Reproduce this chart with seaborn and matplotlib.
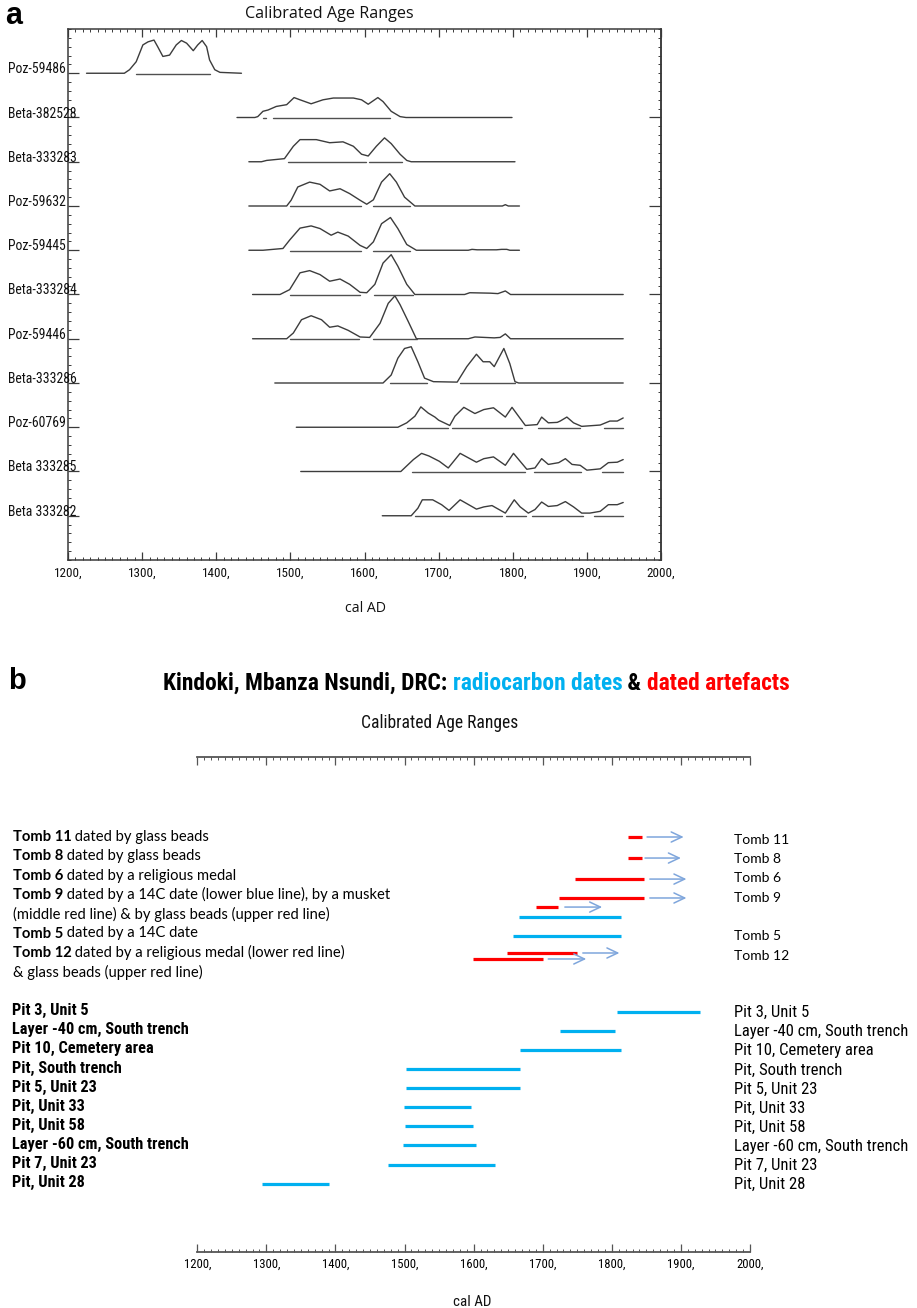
import numpy as np
import pandas as pd
import matplotlib
matplotlib.use("Agg")
import matplotlib.pyplot as plt
import seaborn as sns
from matplotlib import font_manager
from matplotlib.ticker import MultipleLocator, FixedLocator
from matplotlib.transforms import blended_transform_factory

# ------------------------------------------------------------------ data
# Panel a : calibrated probability curves (year, relative height)
POZ_59486_YEAR = [1225, 1276, 1283, 1292, 1301, 1308, 1316, 1321, 1328, 1337, 1346, 1353, 1360, 1369, 1375, 1381, 1387, 1391, 1398, 1405, 1434]
POZ_59486_PROB = [0, 0, 0.08, 0.26, 0.64, 0.71, 0.75, 0.60, 0.38, 0.41, 0.64, 0.74, 0.68, 0.51, 0.64, 0.74, 0.60, 0.30, 0.08, 0.02, 0]
POZ_59486_RANGES = [(1292, 1392)]

BETA_382528_YEAR = [1428, 1452, 1456, 1463, 1470, 1481, 1495, 1505, 1513, 1528, 1544, 1558, 1585, 1596, 1605, 1618, 1625, 1636, 1648, 1656, 1799]
BETA_382528_PROB = [0, 0, 0.02, 0.14, 0.17, 0.25, 0.29, 0.45, 0.40, 0.31, 0.40, 0.44, 0.44, 0.40, 0.30, 0.45, 0.36, 0.14, 0.02, 0, 0]
BETA_382528_RANGES = [(1463, 1467), (1476, 1635)]

BETA_333283_YEAR = [1444, 1461, 1468, 1492, 1504, 1513, 1535, 1553, 1571, 1585, 1596, 1605, 1616, 1627, 1636, 1648, 1657, 1663, 1803]
BETA_333283_PROB = [0, 0, 0.03, 0.07, 0.35, 0.50, 0.50, 0.43, 0.45, 0.35, 0.17, 0.13, 0.35, 0.54, 0.41, 0.17, 0.03, 0, 0]
BETA_333283_RANGES = [(1497, 1602), (1606, 1650)]

POZ_59632_YEAR = [1444, 1495, 1501, 1510, 1526, 1540, 1553, 1567, 1580, 1594, 1603, 1612, 1623, 1634, 1643, 1654, 1668, 1786, 1790, 1794, 1809]
POZ_59632_PROB = [0, 0, 0.13, 0.43, 0.54, 0.49, 0.34, 0.39, 0.28, 0.13, 0.04, 0.14, 0.54, 0.73, 0.54, 0.20, 0, 0, 0.03, 0, 0]
POZ_59632_RANGES = [(1499, 1595), (1612, 1661)]

POZ_59445_YEAR = [1444, 1463, 1490, 1499, 1513, 1528, 1540, 1555, 1564, 1578, 1594, 1603, 1612, 1623, 1635, 1645, 1657, 1670, 1740, 1745, 1752, 1778, 1785, 1792, 1796, 1809]
POZ_59445_PROB = [0, 0, 0.04, 0.23, 0.50, 0.55, 0.49, 0.34, 0.41, 0.32, 0.11, 0.04, 0.19, 0.60, 0.74, 0.49, 0.13, 0, 0, 0.02, 0.01, 0.01, 0.02, 0.02, 0, 0]
POZ_59445_RANGES = [(1499, 1595), (1611, 1661)]

BETA_333284_YEAR = [1449, 1486, 1499, 1513, 1526, 1540, 1553, 1567, 1580, 1594, 1603, 1614, 1625, 1636, 1645, 1657, 1668, 1735, 1742, 1770, 1780, 1790, 1797, 1949]
BETA_333284_PROB = [0, 0, 0.11, 0.49, 0.54, 0.45, 0.30, 0.35, 0.23, 0.05, 0.04, 0.23, 0.71, 0.90, 0.64, 0.23, 0, 0, 0.04, 0.03, 0.02, 0.08, 0, 0]
BETA_333284_RANGES = [(1500, 1594), (1613, 1666)]

POZ_59446_YEAR = [1449, 1495, 1504, 1515, 1528, 1542, 1553, 1564, 1578, 1594, 1607, 1621, 1632, 1641, 1648, 1659, 1670, 1740, 1749, 1775, 1783, 1790, 1797, 1949]
POZ_59446_PROB = [0, 0, 0.13, 0.43, 0.52, 0.43, 0.26, 0.29, 0.19, 0.04, 0.03, 0.35, 0.80, 0.97, 0.77, 0.39, 0, 0, 0.04, 0.02, 0.03, 0.11, 0, 0]
POZ_59446_RANGES = [(1499, 1593), (1612, 1671)]

BETA_333286_YEAR = [1479, 1625, 1636, 1645, 1654, 1663, 1672, 1681, 1693, 1725, 1738, 1751, 1760, 1769, 1775, 1788, 1796, 1803, 1808, 1949]
BETA_333286_PROB = [0, 0, 0.18, 0.56, 0.78, 0.82, 0.48, 0.11, 0.03, 0.02, 0.37, 0.65, 0.48, 0.48, 0.37, 0.78, 0.44, 0.03, 0, 0]
BETA_333286_RANGES = [(1635, 1684), (1729, 1803)]

POZ_60769_YEAR = [1508, 1645, 1657, 1668, 1676, 1686, 1695, 1700, 1715, 1722, 1734, 1749, 1761, 1774, 1790, 1799, 1806, 1817, 1833, 1839, 1848, 1860, 1864, 1873, 1882, 1893, 1918, 1931, 1941, 1949]
POZ_60769_PROB = [0, 0, 0.10, 0.25, 0.46, 0.32, 0.23, 0.16, 0.04, 0.25, 0.45, 0.31, 0.40, 0.44, 0.23, 0.45, 0.29, 0.04, 0.06, 0.23, 0.10, 0.11, 0.14, 0.23, 0.10, 0.02, 0.05, 0.14, 0.14, 0.21]
POZ_60769_RANGES = [(1657, 1713), (1718, 1813), (1834, 1891), (1923, 1949)]

BETA_333285_YEAR = [1514, 1649, 1666, 1677, 1687, 1701, 1713, 1729, 1751, 1761, 1774, 1790, 1801, 1808, 1819, 1830, 1839, 1848, 1862, 1871, 1880, 1891, 1900, 1918, 1929, 1941, 1949]
BETA_333285_PROB = [0, 0, 0.27, 0.41, 0.35, 0.23, 0.08, 0.41, 0.21, 0.29, 0.33, 0.14, 0.41, 0.27, 0.05, 0.08, 0.29, 0.16, 0.20, 0.29, 0.16, 0.14, 0.03, 0.06, 0.20, 0.21, 0.27]
BETA_333285_RANGES = [(1664, 1817), (1828, 1892), (1920, 1949)]

BETA_333282_YEAR = [1624, 1663, 1672, 1678, 1692, 1704, 1714, 1729, 1751, 1761, 1772, 1790, 1802, 1810, 1821, 1830, 1839, 1848, 1860, 1871, 1882, 1893, 1904, 1918, 1929, 1941, 1949]
BETA_333282_PROB = [0, 0, 0.17, 0.36, 0.36, 0.25, 0.12, 0.36, 0.15, 0.20, 0.23, 0.06, 0.36, 0.20, 0.06, 0.14, 0.31, 0.21, 0.23, 0.32, 0.20, 0.06, 0.06, 0.10, 0.25, 0.25, 0.30]
BETA_333282_RANGES = [(1668, 1785), (1791, 1818), (1826, 1895), (1909, 1949)]

a_samples = ["Poz-59486", "Beta-382528", "Beta-333283", "Poz-59632", "Poz-59445",
             "Beta-333284", "Poz-59446", "Beta-333286", "Poz-60769", "Beta 333285", "Beta 333282"]
a_years = [POZ_59486_YEAR, BETA_382528_YEAR, BETA_333283_YEAR, POZ_59632_YEAR, POZ_59445_YEAR,
           BETA_333284_YEAR, POZ_59446_YEAR, BETA_333286_YEAR, POZ_60769_YEAR, BETA_333285_YEAR, BETA_333282_YEAR]
a_probs = [POZ_59486_PROB, BETA_382528_PROB, BETA_333283_PROB, POZ_59632_PROB, POZ_59445_PROB,
           BETA_333284_PROB, POZ_59446_PROB, BETA_333286_PROB, POZ_60769_PROB, BETA_333285_PROB, BETA_333282_PROB]
a_ranges = [POZ_59486_RANGES, BETA_382528_RANGES, BETA_333283_RANGES, POZ_59632_RANGES, POZ_59445_RANGES,
            BETA_333284_RANGES, POZ_59446_RANGES, BETA_333286_RANGES, POZ_60769_RANGES, BETA_333285_RANGES, BETA_333282_RANGES]

year_ticks = [1200, 1300, 1400, 1500, 1600, 1700, 1800, 1900, 2000]
year_tick_labels = ["1200,", "1300,", "1400,", "1500,", "1600,", "1700,", "1800,", "1900,", "2000,"]

# Panel b : tomb descriptions (bold part, regular part)
tomb_text_bold = ["Tomb 11", "Tomb 8", "Tomb 6", "Tomb 9", "", "Tomb 5", "Tomb 12", ""]
tomb_text_rest = [" dated by glass beads", " dated by glass beads", " dated by a religious medal",
                  " dated by a 14C date (lower blue line), by a musket",
                  "(middle red line) & by glass beads (upper red line)",
                  " dated by a 14C date", " dated by a religious medal (lower red line)",
                  "& glass beads (upper red line)"]
tomb_right_labels = ["Tomb 11", "Tomb 8", "Tomb 6", "Tomb 9", "Tomb 5", "Tomb 12"]
tomb_right_line = [0, 1, 2, 3, 5, 6]

# dated artefacts (red) with open-ended arrows
artefact_tomb = ["Tomb 11", "Tomb 8", "Tomb 6", "Tomb 9 (beads)", "Tomb 9 (musket)", "Tomb 12 (beads)", "Tomb 12 (medal)"]
artefact_start = [1823, 1823, 1747, 1724, 1690, 1648, 1599]
artefact_end = [1844, 1844, 1846, 1846, 1722, 1750, 1700]
arrow_start = [1851, 1848, 1855, 1855, 1732, 1758, 1708]
arrow_end = [1904, 1900, 1908, 1908, 1786, 1811, 1763]
artefact_lane = [0.0, 1.09, 2.18, 3.16, 3.63, 6.01, 6.32]

# tomb radiocarbon dates (blue)
tomb14c = ["Tomb 9", "Tomb 5"]
tomb14c_start = [1665, 1657]
tomb14c_end = [1813, 1813]
tomb14c_lane = [4.15, 5.13]

# other radiocarbon dates (blue)
site_labels = ["Pit 3, Unit 5", "Layer -40 cm, South trench", "Pit 10, Cemetery area", "Pit, South trench",
               "Pit 5, Unit 23", "Pit, Unit 33", "Pit, Unit 58", "Layer -60 cm, South trench",
               "Pit 7, Unit 23", "Pit, Unit 28"]
site_start = [1807, 1725, 1667, 1502, 1502, 1499, 1500, 1498, 1476, 1293]
site_end = [1927, 1804, 1814, 1667, 1667, 1596, 1599, 1603, 1631, 1390]

# ------------------------------------------------------------------ style
W, H, DPI = 917, 1308, 100
sns.set_theme(style="white")
plt.rcParams["font.family"] = ["DejaVu Sans"]

available = {f.name for f in font_manager.fontManager.ttflist}


def pick(*names):
    for n in names:
        if n in available:
            return n
    return "DejaVu Sans"


NARROW = pick("Liberation Sans Narrow", "Roboto Condensed", "Open Sans Condensed", "DejaVu Sans Condensed", "Liberation Sans")
CAL = pick("Lato", "Open Sans", "Liberation Sans")
SEGOE = pick("Open Sans", "Noto Sans", "DejaVu Sans")
ARIAL = pick("Liberation Sans", "DejaVu Sans")
TAHOMA = NARROW

CURVE = "#3c3c3c"
AXC = "#3a3a3a"
BLUE = "#00B0F0"
RED = "#FF0000"
ARROW = "#7FA6DC"

fig = plt.figure(figsize=(W / DPI, H / DPI), dpi=DPI)
fig.patch.set_facecolor("white")
renderer = fig.canvas.get_renderer()


def fx(x):
    return x / W


def fy(y):
    return 1 - y / H


def pt(p):
    return p * 72 / DPI


def fit(s, target, **kw):
    t = fig.text(0, 0, s, fontsize=10, **kw)
    w = t.get_window_extent(renderer).width
    t.remove()
    return 10 * target / w


# ------------------------------------------------------------------ panel a
axa = fig.add_axes([fx(68), fy(560), (661 - 68) / W, (560 - 29) / H])

rows = []
for i, (name, ys, ps) in enumerate(zip(a_samples, a_years, a_probs)):
    for yv, pv in zip(ys, ps):
        rows.append({"sample": name, "year": yv, "level": i - pv})
curve_df = pd.DataFrame(rows)

rrows = []
for i, (name, rngs) in enumerate(zip(a_samples, a_ranges)):
    for k, (s, e) in enumerate(rngs):
        rrows.append({"seg": f"{name}-{k}", "year": s, "level": i + 0.01})
        rrows.append({"seg": f"{name}-{k}", "year": e, "level": i + 0.01})
range_df = pd.DataFrame(rrows)

sns.lineplot(data=curve_df, x="year", y="level", units="sample", estimator=None, sort=False,
             color=CURVE, lw=1.0, ax=axa, legend=False)
sns.lineplot(data=range_df, x="year", y="level", units="seg", estimator=None, sort=False,
             color="#505050", lw=1.0, ax=axa, legend=False)

axa.set_xlim(1200, 2000)
axa.set_ylim(11, -1)
axa.set_xlabel("")
axa.set_ylabel("")
for sp in axa.spines.values():
    sp.set_color(AXC)
    sp.set_linewidth(1.1)

fs_tick_a = fit("1200,", 28, family=TAHOMA)
axa.set_xticks(year_ticks)
axa.set_xticklabels(year_tick_labels, fontsize=fs_tick_a, family=TAHOMA, color="#111111")
axa.xaxis.set_minor_locator(MultipleLocator(10))
axa.tick_params(axis="x", which="major", direction="in", length=pt(8), width=0.9, color=AXC,
                top=True, bottom=True, pad=pt(7))
axa.tick_params(axis="x", which="minor", direction="in", length=pt(3), width=0.7, color=AXC,
                top=True, bottom=True)
axa.yaxis.set_major_locator(FixedLocator(list(range(len(a_samples)))))
axa.yaxis.set_minor_locator(MultipleLocator(0.2))
axa.tick_params(axis="y", which="major", direction="in", length=pt(11), width=0.9, color=AXC,
                left=True, right=False, labelleft=False)
axa.tick_params(axis="y", which="minor", direction="in", length=pt(3), width=0.7, color=AXC,
                left=True, right=False)

sec = axa.secondary_yaxis("right")
sec.yaxis.set_major_locator(FixedLocator([1, 3, 5, 7, 9]))
sec.yaxis.set_minor_locator(MultipleLocator(0.2))
sec.tick_params(axis="y", which="major", direction="in", length=pt(12), width=0.9, color=AXC, labelright=False)
sec.tick_params(axis="y", which="minor", direction="in", length=pt(3), width=0.7, color=AXC)
sec.spines["right"].set_color(AXC)
sec.spines["right"].set_linewidth(1.1)

trans_a = blended_transform_factory(fig.transFigure, axa.transData)
fs_lab_a = fit("Beta-382528", 68, family=TAHOMA)
for i, name in enumerate(a_samples):
    fig.text(fx(8), i, name, transform=trans_a, ha="left", va="baseline",
             fontsize=fs_lab_a, family=TAHOMA, color="#111111")

fig.text(fx(329), fy(14), "Calibrated Age Ranges", ha="center", va="center",
         fontsize=fit("Calibrated Age Ranges", 168, family=SEGOE), family=SEGOE, color="#111111")
fig.text(fx(365.5), fy(609), "cal AD", ha="center", va="center",
         fontsize=fit("cal AD", 41, family=SEGOE), family=SEGOE, color="#111111")
fig.text(fx(5), fy(24), "a", ha="left", va="baseline", fontsize=22, weight="bold", family=ARIAL, color="black")

# ------------------------------------------------------------------ panel b
LINE0, LSTEP = 837.0, 19.3
u_top = (757 - LINE0) / LSTEP
u_bot = (1252 - LINE0) / LSTEP
axb = fig.add_axes([fx(197.3), fy(1252), (750 - 197.3) / W, (1252 - 757) / H])
axb.set_xlim(1200, 2000)
axb.set_ylim(u_bot, u_top)
axb.set_facecolor("none")
axb.spines["left"].set_visible(False)
axb.spines["right"].set_visible(False)
for s in ("top", "bottom"):
    axb.spines[s].set_color("#555555")
    axb.spines[s].set_linewidth(1.3)

fs_tick_b = fit("1200,", 27, family=NARROW)
axb.set_xticks(year_ticks)
axb.set_xticklabels(year_tick_labels, fontsize=fs_tick_b, family=NARROW, color="black")
axb.xaxis.set_minor_locator(MultipleLocator(10))
axb.tick_params(axis="x", which="major", direction="in", length=pt(8), width=0.9, color="#555555",
                top=True, bottom=True, pad=pt(6))
axb.tick_params(axis="x", which="minor", direction="in", length=pt(3), width=0.7, color="#555555",
                top=True, bottom=True)
axb.set_yticks([])
axb.tick_params(axis="y", left=False, right=False)

# red artefact bars + arrows
axb.hlines(artefact_lane, artefact_start, artefact_end, colors=RED, lw=2.3, capstyle="butt")
for s, e, ln in zip(arrow_start, arrow_end, artefact_lane):
    axb.annotate("", xy=(e, ln), xytext=(s, ln),
                 arrowprops=dict(arrowstyle="->,head_length=0.55,head_width=0.26", color=ARROW,
                                 lw=1.1, mutation_scale=14, shrinkA=0, shrinkB=0))
# blue radiocarbon bars
axb.hlines(tomb14c_lane, tomb14c_start, tomb14c_end, colors=BLUE, lw=2.3, capstyle="butt")
site_lane = [9 + i * 0.99 for i in range(len(site_labels))]
axb.hlines([u + 0.05 for u in site_lane], site_start, site_end, colors=BLUE, lw=2.3, capstyle="butt")

trans_b = blended_transform_factory(fig.transFigure, axb.transData)

# descriptive lines (bold + regular)
fs_cal = fit("dated by a 14C date (lower blue line), by a musket", 322, family=CAL)
for i, (bold, rest) in enumerate(zip(tomb_text_bold, tomb_text_rest)):
    if bold:
        t1 = fig.text(fx(12.7), i, bold, transform=trans_b, ha="left", va="center",
                      fontsize=fs_cal, weight="bold", family=CAL, color="black")
        axb.annotate(rest, xy=(1, 0), xycoords=t1, ha="left", va="bottom",
                     fontsize=fs_cal, family=CAL, color="black", annotation_clip=False)
    else:
        fig.text(fx(12.7), i, rest, transform=trans_b, ha="left", va="center",
                 fontsize=fs_cal, family=CAL, color="black")

fs_right_tomb = fit("Tomb 11", 55, family=CAL)
for lab, ln in zip(tomb_right_labels, tomb_right_line):
    fig.text(fx(734), ln + 0.15, lab, transform=trans_b, ha="left", va="center",
             fontsize=fs_right_tomb, family=CAL, color="black")

fs_site_left = fit("Layer -40 cm, South trench", 176, family=NARROW, weight="bold")
fs_site_right = fit("Layer -60 cm, South trench", 173, family=NARROW)
for lab, u in zip(site_labels, site_lane):
    fig.text(fx(12), u, lab, transform=trans_b, ha="left", va="center",
             fontsize=fs_site_left, weight="bold", family=NARROW, color="black")
    fig.text(fx(734), u + 0.1, lab, transform=trans_b, ha="left", va="center",
             fontsize=fs_site_right, family=NARROW, color="black")

# title of panel b (multi-coloured)
title_parts = ["Kindoki, Mbanza Nsundi, DRC: ", "radiocarbon dates", " & ", "dated artefacts"]
title_colors = ["black", BLUE, "black", RED]
fs_title = fit("".join(title_parts), 627, family=NARROW, weight="bold")
prev = fig.text(fx(163), fy(683), title_parts[0], ha="left", va="center", fontsize=fs_title,
                weight="bold", family=NARROW, color=title_colors[0])
for part, col in zip(title_parts[1:], title_colors[1:]):
    prev = axb.annotate(part, xy=(1, 0), xycoords=prev, ha="left", va="bottom", fontsize=fs_title,
                        weight="bold", family=NARROW, color=col, annotation_clip=False)

fig.text(fx(440), fy(723), "Calibrated Age Ranges", ha="center", va="center",
         fontsize=fit("Calibrated Age Ranges", 156, family=NARROW), family=NARROW, color="#111111")
fig.text(fx(472), fy(1302), "cal AD", ha="center", va="center",
         fontsize=fit("cal AD", 38, family=NARROW), family=NARROW, color="#111111")
fig.text(fx(8), fy(689), "b", ha="left", va="baseline", fontsize=21, weight="bold", family=ARIAL, color="black")

fig.savefig("out.png", dpi=DPI, facecolor="white")
